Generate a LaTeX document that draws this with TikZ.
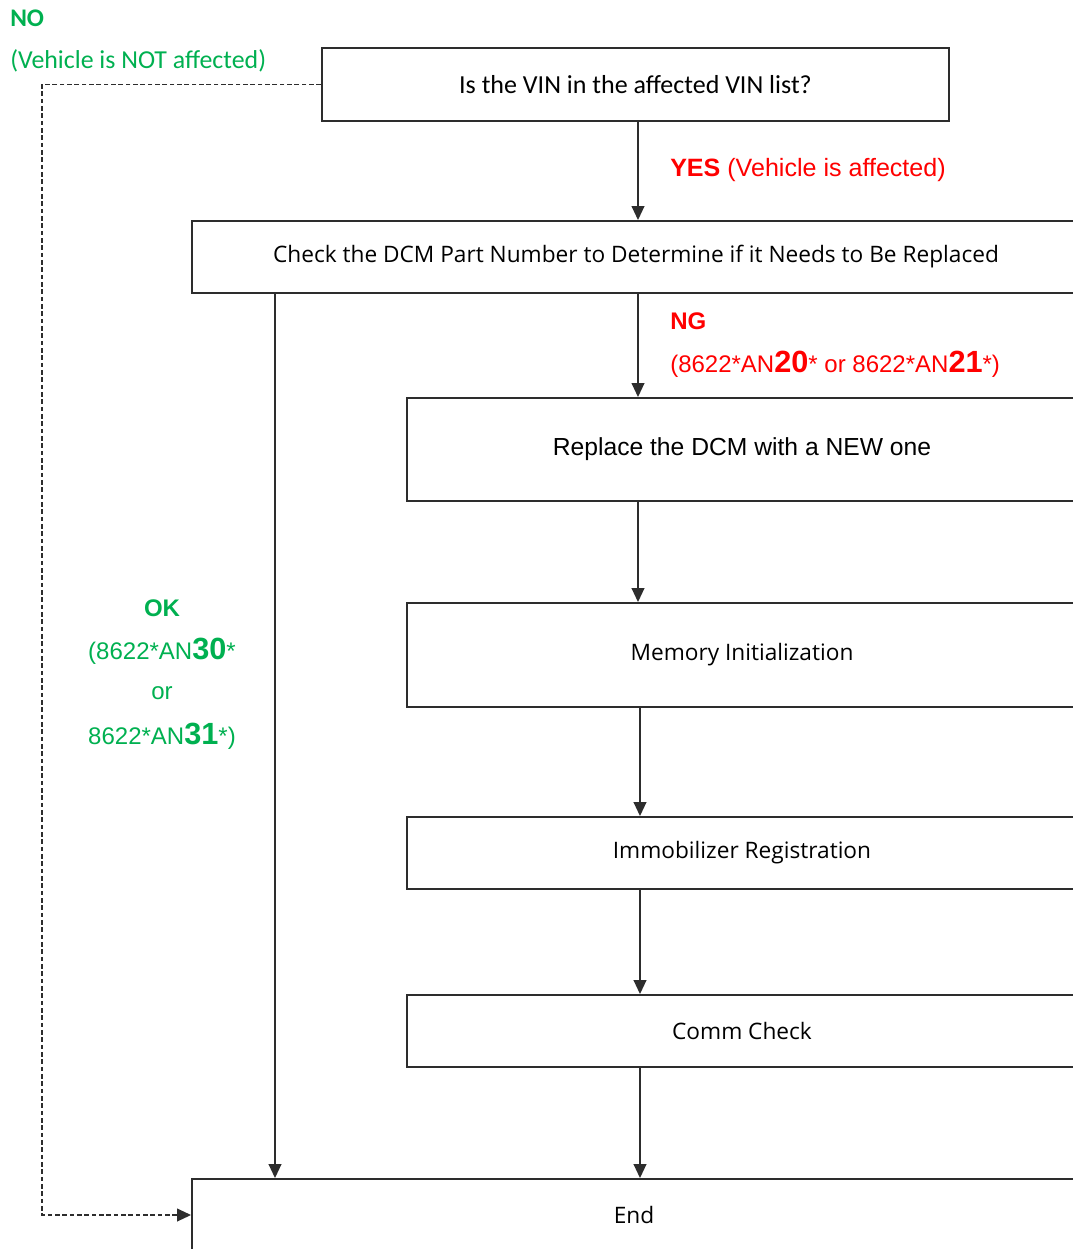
\documentclass[tikz,border=0pt]{standalone}
\usepackage{fontspec}
\setmainfont{Liberation Sans}
\newfontfamily\boxfont{Open Sans}
\newfontfamily\calfont{Carlito}
\usetikzlibrary{arrows.meta}
\definecolor{okgreen}{RGB}{0,176,80}
\definecolor{ngred}{RGB}{255,0,0}
\definecolor{linegray}{RGB}{45,45,45}
\begin{document}
\begin{tikzpicture}[x=0.75pt,y=0.75pt,yscale=-1,xscale=1,
	stepbox/.style={draw=linegray,line width=1.4pt,rectangle,inner sep=0pt,font=\boxfont\fontsize{17}{20}\selectfont},
	arr/.style={draw=linegray,line width=1.4pt,-{Triangle[length=10.5pt,width=9.5pt]}},
	dasharr/.style={arr,dash pattern={on 3.5pt off 2pt}},
	lbl/.style={anchor=west,inner sep=0pt}]
	\useasboundingbox (0,0) rectangle (1073,1249);
	\clip (0,0) rectangle (1073,1249);
	% boxes
	\node[stepbox,minimum width=627*0.75pt,minimum height=73*0.75pt,font=\calfont\fontsize{19.5}{22}\selectfont] (vin) at (635.5,84.5) {Is the VIN in the affected VIN list?};
	\node[stepbox,minimum width=888*0.75pt,minimum height=72*0.75pt] (check) at (636,257) {Check the DCM Part Number to Determine if it Needs to Be Replaced};
	\node[stepbox,minimum width=670*0.75pt,minimum height=103*0.75pt,font=\fontsize{18.5}{21}\selectfont] (repl) at (742,449.5) {Replace the DCM with a NEW one};
	\node[stepbox,minimum width=670*0.75pt,minimum height=104*0.75pt] (mem) at (742,655) {Memory Initialization};
	\node[stepbox,minimum width=670*0.75pt,minimum height=72*0.75pt] (immo) at (742,853) {Immobilizer Registration};
	\node[stepbox,minimum width=670*0.75pt,minimum height=72*0.75pt] (comm) at (742,1031) {Comm Check};
	\node[stepbox,minimum width=884*0.75pt,minimum height=72*0.75pt] (end) at (634,1215) {End};
	% connectors
	\coordinate (spine) at (638,0);
	\coordinate (spinelow) at (640,0);
	\coordinate (okline) at (275,0);
	\coordinate (noline) at (42,0);
	\draw[arr] (vin.south -| spine) -- (check.north -| spine);
	\draw[arr] (check.south -| spine) -- (repl.north -| spine);
	\draw[arr] (repl.south -| spine) -- (mem.north -| spine);
	\draw[arr] (mem.south -| spinelow) -- (immo.north -| spinelow);
	\draw[arr] (immo.south -| spinelow) -- (comm.north -| spinelow);
	\draw[arr] (comm.south -| spinelow) -- (end.north -| spinelow);
	\draw[arr] (check.south -| okline) -- (end.north -| okline);
	\draw[dasharr] (vin.west) -- (vin.west -| noline) |- (end.west);
	% labels
	\node[lbl,text=okgreen,font=\calfont\bfseries\fontsize{19}{22}\selectfont] (nolbl) at (10,18) {NO};
	\node[lbl,text=okgreen,font=\calfont\fontsize{19.4}{22}\selectfont] (notaff) at (10,61) {(Vehicle is NOT affected)};
	\node[lbl,text=ngred,font=\fontsize{18.8}{21}\selectfont] (yeslbl) at (670,170) {\textbf{YES} (Vehicle is affected)};
	\node[lbl,text=ngred,font=\bfseries\fontsize{18}{21}\selectfont] (nglbl) at (670,321) {NG};
	\node[lbl,text=ngred,font=\fontsize{18}{21}\selectfont] (ngnum) at (670,364) {(8622*AN{\bfseries\fontsize{23}{25}\selectfont 20}* or 8622*AN{\bfseries\fontsize{23}{25}\selectfont 21}*)};
	\node[text=okgreen,inner sep=0pt,font=\bfseries\fontsize{18}{21}\selectfont] (oklbl) at (162,608) {OK};
	\node[text=okgreen,inner sep=0pt,font=\fontsize{18}{21}\selectfont] (oknum1) at (162,651) {(8622*AN{\bfseries\fontsize{23}{25}\selectfont 30}*};
	\node[text=okgreen,inner sep=0pt,font=\fontsize{18}{21}\selectfont] (okor) at (162,693) {or};
	\node[text=okgreen,inner sep=0pt,font=\fontsize{18}{21}\selectfont] (oknum2) at (162,736) {8622*AN{\bfseries\fontsize{23}{25}\selectfont 31}*)};
\end{tikzpicture}
\end{document}
